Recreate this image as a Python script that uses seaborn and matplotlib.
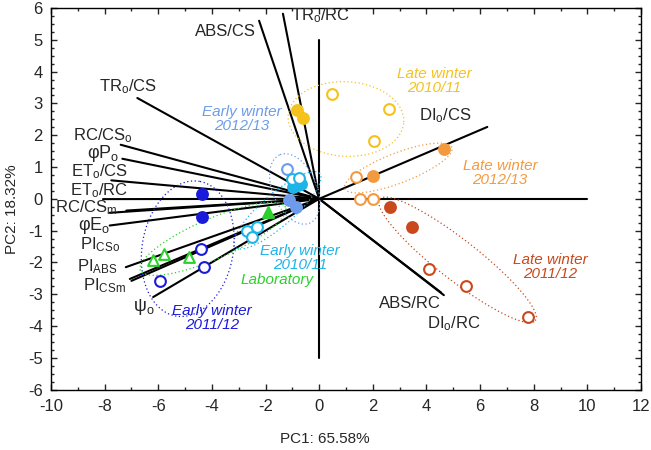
import numpy as np
import pandas as pd
import matplotlib
matplotlib.use("Agg")
import matplotlib.pyplot as plt
from matplotlib.ticker import MultipleLocator
import seaborn as sns

# PCA loadings (vector ends)
var_names = ["ABS/CS", "TR$_\\mathrm{o}$/RC", "TR$_\\mathrm{o}$/CS", "RC/CS$_\\mathrm{o}$",
             "φP$_\\mathrm{o}$", "ET$_\\mathrm{o}$/CS", "ET$_\\mathrm{o}$/RC", "RC/CS$_\\mathrm{m}$",
             "", "φE$_\\mathrm{o}$", "PI$_\\mathrm{CSo}$", "PI$_\\mathrm{ABS}$", "PI$_\\mathrm{CSm}$",
             "ψ$_\\mathrm{o}$", "DI$_\\mathrm{o}$/CS", "ABS/RC", "DI$_\\mathrm{o}$/RC"]
load_x = [-2.24, -1.35, -6.78, -7.40, -7.34, -7.75, -8.06, -7.81, -7.19, -7.81,
          -7.21, -7.06, -7.00, -6.19, 6.27, 4.55, 4.65]
load_y = [5.60, 5.82, 3.17, 1.70, 1.26, 0.58, -0.01, -0.44, -0.37, -0.84,
          -2.15, -2.52, -2.58, -3.09, 2.26, -2.95, -3.03]

# sample scores
groups = ["Late winter\n2010/11", "Late winter\n2012/13", "Late winter\n2011/12",
          "Early winter\n2012/13", "Early winter\n2010/11", "Laboratory", "Early winter\n2011/12"]
colors = ["#F5C21B", "#F39A3F", "#C9481C", "#6C9CEB", "#1DB4E8", "#2BD12B", "#1A1ADB"]

pt_group = [0, 0, 0, 0, 0,
            1, 1, 1, 1, 1,
            2, 2, 2, 2, 2,
            3, 3, 3,
            4, 4, 4, 4, 4, 4, 4, 4,
            5, 5, 5, 5,
            6, 6, 6, 6, 6]
pt_x = [-0.82, -0.62, 0.49, 2.59, 2.05,
        4.65, 1.99, 1.37, 1.54, 1.99,
        2.66, 3.47, 4.09, 5.46, 7.78,
        -1.12, -0.87, -1.19,
        -0.97, -0.78, -0.66, -1.00, -0.75, -2.69, -2.31, -2.49,
        -1.90, -6.19, -5.78, -4.85,
        -4.35, -4.35, -4.41, -4.30, -5.94]
pt_y = [2.78, 2.55, 3.30, 2.81, 1.83,
        1.57, 0.73, 0.68, 0.00, 0.00,
        -0.26, -0.89, -2.20, -2.73, -3.72,
        -0.05, -0.26, 0.94,
        0.37, 0.44, 0.47, 0.61, 0.65, -1.00, -0.89, -1.20,
        -0.40, -1.91, -1.73, -1.83,
        0.16, -0.58, -1.57, -2.15, -2.57]
pt_filled = [1, 1, 0, 0, 0,
             1, 1, 0, 0, 0,
             1, 1, 0, 0, 0,
             1, 1, 0,
             1, 1, 1, 0, 0, 0, 0, 0,
             1, 0, 0, 0,
             1, 1, 0, 0, 0]

# group ellipses: centre x, centre y, semi-axes (x units), angle on screen
ell_cx = [1.00, 2.95, 5.16, -0.91, -1.56, -3.96, -4.90]
ell_cy = [2.51, 0.97, -1.92, 0.31, -0.36, -1.26, -1.57]
ell_a = [2.16, 2.14, 3.68, 1.39, 2.09, 2.95, 2.55]
ell_b = [1.39, 0.56, 0.75, 0.82, 0.60, 0.75, 1.70]
ell_ang = [-3, 21, -38, 114, 41, 23.5, 80]

df = pd.DataFrame({"PC1": pt_x, "PC2": pt_y, "group": [groups[g] for g in pt_group],
                   "gi": pt_group, "filled": pt_filled})

sns.set_style("ticks")
plt.rcParams["font.family"] = ["Liberation Sans", "DejaVu Sans"]
plt.rcParams["mathtext.fontset"] = "custom"
plt.rcParams["mathtext.rm"] = "Liberation Sans"
plt.rcParams["mathtext.it"] = "Liberation Sans:italic"
plt.rcParams["axes.unicode_minus"] = False

fig = plt.figure(figsize=(6.51, 4.5), dpi=100)
ax = fig.add_axes([0.0783, 0.1342, 0.9063, 0.848])
ax.set_xlim(-10, 12)
ax.set_ylim(-6, 6)

# axis cross
ax.plot([0, 0], [-5, 5], color="black", lw=1.5, zorder=1)
ax.plot([0, 10], [0, 0], color="black", lw=1.5, zorder=1)

# loading vectors
for lx, ly in zip(load_x, load_y):
    ax.plot([0, lx], [0, ly], color="black", lw=1.5, zorder=1)

# ellipses, drawn in screen-proportional space
k = (0.848 * 450 / 12) / (0.9063 * 651 / 22)
t = np.linspace(0, 2 * np.pi, 200)
for i in range(len(groups)):
    th = np.radians(ell_ang[i])
    ex = ell_a[i] * np.cos(t) * np.cos(th) - ell_b[i] * np.sin(t) * np.sin(th)
    ey = ell_a[i] * np.cos(t) * np.sin(th) + ell_b[i] * np.sin(t) * np.cos(th)
    ax.plot(ell_cx[i] + ex, ell_cy[i] + ey / k, color=colors[i], lw=0.9,
            ls=(0, (1, 2)), zorder=2)

# points
for i, g in enumerate(groups):
    mk = "^" if g == "Laboratory" else "o"
    for f in [1, 0]:
        sub = df[(df.gi == i) & (df.filled == f)]
        if len(sub) == 0:
            continue
        sns.scatterplot(data=sub, x="PC1", y="PC2", ax=ax, marker=mk, s=60,
                        facecolor=colors[i] if f else "white", edgecolor=colors[i],
                        linewidth=1.5, zorder=3, legend=False)

# loading labels
lab_pos = [(-3.5, 5.25, "center"), (-1.05, 5.75, "left"), (-7.14, 3.52, "center"),
           (-8.08, 1.99, "center"), (-8.06, 1.42, "center"), (-8.18, 0.84, "center"),
           (-8.2, 0.27, "center"), (-8.67, -0.29, "center"), None, (-8.4, -0.84, "center"),
           (-8.18, -1.44, "center"), (-8.29, -2.14, "center"), (-7.99, -2.74, "center"),
           (-6.54, -3.4, "center"), (4.69, 2.61, "center"), (3.38, -3.3, "center"),
           (5.03, -3.93, "center")]
for name, pos in zip(var_names, lab_pos):
    if pos is None or name == "":
        continue
    fs = 13 if name.startswith("ψ") or name.startswith("φ") else 12
    ax.text(pos[0], pos[1], name, ha=pos[2], va="center", fontsize=fs, zorder=4)

# group labels
grp_pos = [(4.3, 3.7), (6.74, 0.82), (8.61, -2.14), (-2.88, 2.52), (-0.72, -1.86),
           (-1.58, -2.55), (-4.0, -3.74)]
for i, g in enumerate(groups):
    ax.text(grp_pos[i][0], grp_pos[i][1], g, color=colors[i], style="italic",
            ha="center", va="center", fontsize=11, linespacing=1.0, zorder=4)

ax.set_xticks(np.arange(-10, 13, 2))
ax.set_yticks(np.arange(-6, 7, 1))
ax.xaxis.set_minor_locator(MultipleLocator(1))
ax.yaxis.set_minor_locator(MultipleLocator(0.25))
ax.tick_params(which="both", direction="in", top=True, right=True, labelsize=12, width=1)
ax.tick_params(which="major", length=4)
ax.tick_params(which="minor", length=2)
ax.tick_params(axis="x", which="major", pad=7)
ax.tick_params(axis="y", which="major", pad=6)
for sp in ax.spines.values():
    sp.set_linewidth(1.0)
    sp.set_color("black")

ax.set_xlabel("PC1: 65.58%", fontsize=11)
ax.set_ylabel("PC2: 18.32%", fontsize=11)
ax.xaxis.set_label_coords(0.464, -0.112)
ax.yaxis.set_label_coords(-0.054, 0.473)

fig.savefig("out.png", dpi=100)
